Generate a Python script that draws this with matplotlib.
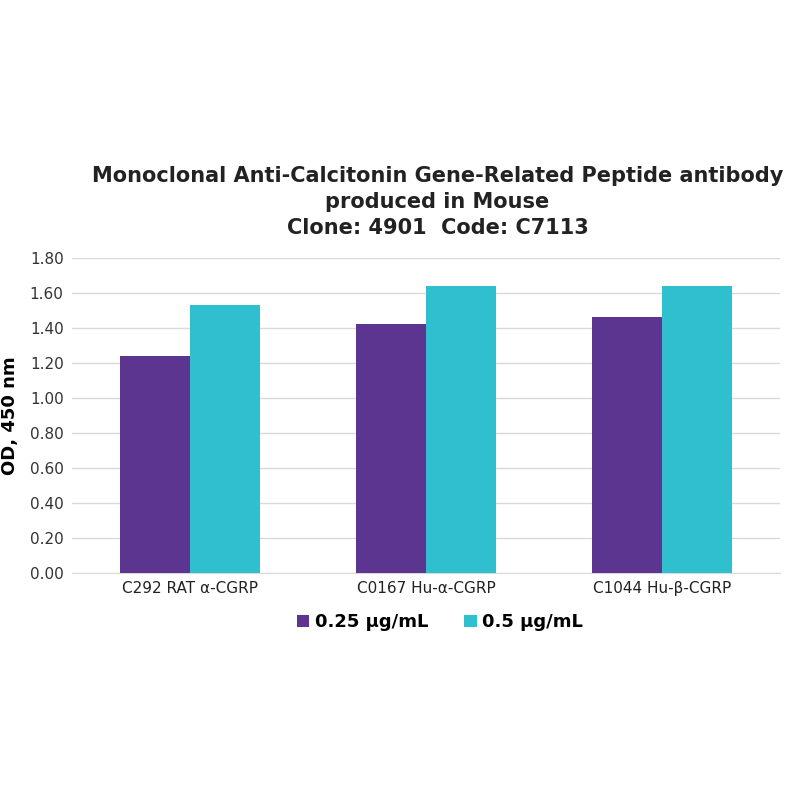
import numpy as np
import matplotlib.pyplot as plt

categories = ['C292 RAT α-CGRP', 'C0167 Hu-α-CGRP', 'C1044 Hu-β-CGRP']
low_dose = [1.24, 1.42, 1.46]
high_dose = [1.53, 1.64, 1.64]
series_names = ['0.25 µg/mL', '0.5 µg/mL']
yticks = [0.0, 0.2, 0.4, 0.6, 0.8, 1.0, 1.2, 1.4, 1.6, 1.8]

purple = '#5c3591'
cyan = '#2fbfcf'

fig = plt.figure(figsize=(8, 8), dpi=100)
ax = fig.add_axes([0.09, 0.284, 0.885, 0.394])

x = np.arange(len(categories))
w = 0.295
ax.bar(x - w / 2, low_dose, w, color=purple, label=series_names[0], zorder=3)
ax.bar(x + w / 2, high_dose, w, color=cyan, label=series_names[1], zorder=3)

ax.set_xlim(-0.5, len(categories) - 0.5)
ax.set_ylim(0, 1.8)
ax.set_yticks(yticks)
ax.set_yticklabels([f'{v:.2f}' for v in yticks], fontsize=11, color='#333333')
ax.set_xticks(x)
ax.set_xticklabels(categories, fontsize=11, color='#222222')
ax.tick_params(length=0, pad=6)
ax.grid(axis='y', color='#d9d9d9', linewidth=1, zorder=0)
for s in ['top', 'right', 'left']:
    ax.spines[s].set_visible(False)
ax.spines['bottom'].set_color('#d9d9d9')

ax.set_ylabel('OD, 450 nm', fontsize=13, fontweight='bold', labelpad=8)

fig.text(0.547, 0.7475, 'Monoclonal Anti-Calcitonin Gene-Related Peptide antibody\nproduced in Mouse\nClone: 4901  Code: C7113',
         ha='center', va='center', fontsize=15, fontweight='bold', color='#222222', linespacing=1.35)

leg = fig.legend(loc='center', bbox_to_anchor=(0.55, 0.222), ncol=2, frameon=False,
                 prop={'size': 13, 'weight': 'bold'}, handlelength=0.7, handleheight=0.7,
                 handletextpad=0.3, columnspacing=2.0)

plt.savefig('out.png', dpi=100)
